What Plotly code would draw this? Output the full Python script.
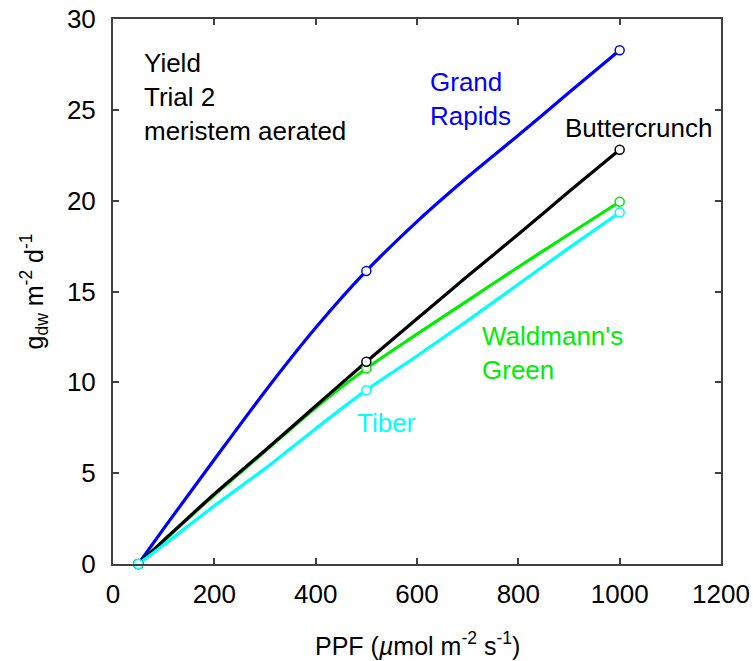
import plotly.graph_objects as go

# PPF values (µmol m-2 s-1)
ppf = [50, 100, 200, 300, 400, 500, 600, 700, 800, 900, 1000]

# Yield (g_dw m-2 d-1)
grand_rapids = [0.0, 1.95, 5.75, 9.5, 13.0, 16.13, 18.85, 21.3, 23.6, 25.95, 28.28]
buttercrunch = [0.0, 1.3, 3.85, 6.25, 8.7, 11.13, 13.5, 15.85, 18.15, 20.5, 22.8]
waldmanns_green = [0.0, 1.28, 3.8, 6.2, 8.6, 10.76, 12.65, 14.5, 16.35, 18.15, 19.94]
tiber = [0.0, 1.05, 3.2, 5.25, 7.45, 9.57, 11.45, 13.4, 15.4, 17.4, 19.35]

# measured points (shown as open circles)
marker_ppf = [50, 500, 1000]

series = [
    ("Grand Rapids", grand_rapids, "#0000ff"),
    ("Waldmann's Green", waldmanns_green, "#00ee00"),
    ("Buttercrunch", buttercrunch, "#000000"),
    ("Tiber", tiber, "#00ffff"),
]

fig = go.Figure()
for name, vals, col in series:
    fig.add_trace(go.Scatter(
        x=ppf, y=vals, mode="lines", name=name,
        line=dict(color=col, width=3.2, shape="spline", smoothing=0.8),
        showlegend=False, cliponaxis=False))
for name, vals, col in series:
    my = [vals[ppf.index(p)] for p in marker_ppf]
    fig.add_trace(go.Scatter(
        x=marker_ppf, y=my, mode="markers", name=name,
        marker=dict(symbol="circle", size=9, color="white",
                    line=dict(color=col, width=1.5)),
        showlegend=False, cliponaxis=False))

font_family = "Liberation Sans, Arial, sans-serif"
axis_common = dict(
    showgrid=False, zeroline=False, showline=True, linecolor="#404040",
    linewidth=2, mirror="ticks", ticks="inside", ticklen=6, tickwidth=1.5,
    tickcolor="#404040", ticklabeloverflow="allow",
    tickfont=dict(family=font_family, size=26, color="black"),
)
fig.update_xaxes(range=[0, 1200], tickvals=[0, 200, 400, 600, 800, 1000, 1200],
                 ticklabelstandoff=6, **axis_common)
fig.update_yaxes(range=[0, 30], tickvals=[0, 5, 10, 15, 20, 25, 30],
                 ticklabelstandoff=10, **axis_common)

anns = [
    dict(text="Yield<br>Trial 2<br>meristem aerated", x=58, y=25.7, color="black"),
    dict(text="Grand<br>Rapids", x=621, y=25.6, color="#0000ff"),
    dict(text="Buttercrunch", x=888, y=24.0, color="black"),
    dict(text="Waldmann's<br>Green", x=724, y=11.6, color="#00ee00"),
    dict(text="Tiber", x=477, y=7.75, color="#00ffff"),
]
for a in anns:
    fig.add_annotation(text=a["text"], x=a["x"], y=a["y"], xref="x", yref="y",
                       xanchor="left", yanchor="middle", align="left",
                       showarrow=False,
                       font=dict(family=font_family, size=26, color=a["color"]))

fig.add_annotation(text="PPF (<i>µ</i>mol m<sup>-2</sup> s<sup>-1</sup>)",
                   x=0.5, y=-0.146, xref="paper", yref="paper",
                   xanchor="center", yanchor="middle", showarrow=False,
                   font=dict(family=font_family, size=25, color="black"))
fig.add_annotation(text="g<sub>dw</sub> m<sup>-2</sup> d<sup>-1</sup>",
                   x=-0.13, y=0.5, xref="paper", yref="paper", textangle=-90,
                   xanchor="center", yanchor="middle", showarrow=False,
                   font=dict(family=font_family, size=25, color="black"))

fig.update_layout(
    width=753, height=661,
    margin=dict(l=113, r=32, t=19, b=97, autoexpand=False),
    plot_bgcolor="white", paper_bgcolor="white",
)
# remove the default page margin so the figure fills the window exactly
fig.write_html("out.html",
               config={"displayModeBar": False},
               post_script="document.body.style.margin='0';"
                           "document.body.style.overflow='hidden';")
